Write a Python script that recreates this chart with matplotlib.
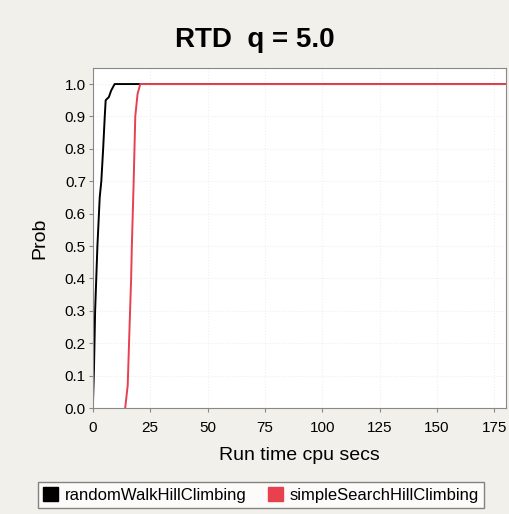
import matplotlib.pyplot as plt
from matplotlib.patches import Patch

plt.rcParams['font.family'] = ['Liberation Sans', 'DejaVu Sans']

# run time (cpu secs) vs cumulative probability of success
rw_time = [0.0, 0.5, 1.0, 2.0, 3.0, 3.7, 4.5, 5.2, 5.6, 7.0, 8.0, 9.5, 180.0]
rw_prob = [0.0, 0.12, 0.3, 0.5, 0.65, 0.7, 0.8, 0.9, 0.95, 0.96, 0.98, 1.0, 1.0]

ss_time = [14.1, 15.2, 16.0, 16.7, 17.0, 17.8, 18.5, 19.5, 20.7, 180.0]
ss_prob = [0.0, 0.07, 0.25, 0.4, 0.5, 0.7, 0.9, 0.97, 1.0, 1.0]

x_ticks = [0, 25, 50, 75, 100, 125, 150, 175]
y_ticks = [0.0, 0.1, 0.2, 0.3, 0.4, 0.5, 0.6, 0.7, 0.8, 0.9, 1.0]

bg = "#f1f0ea"
fig = plt.figure(figsize=(5.1, 5.14), dpi=100, facecolor=bg)
ax = fig.add_axes([0.182, 0.206, 0.810, 0.662])
ax.set_facecolor("white")

ax.plot(rw_time, rw_prob, color="black", lw=1.4, label="randomWalkHillClimbing")
ax.plot(ss_time, ss_prob, color="#e8404f", lw=1.4, label="simpleSearchHillClimbing")

ax.set_xlim(0, 180)
ax.set_ylim(0, 1.05)
ax.set_xticks(x_ticks)
ax.set_yticks(y_ticks)
ax.set_yticklabels([f"{v:.1f}" for v in y_ticks])
ax.grid(True, color="#efefef", ls=":", lw=0.8)
ax.tick_params(labelsize=11, length=3, color="#888888")
ax.tick_params(axis="x", pad=6)
ax.tick_params(axis="y", pad=2)
for s in ax.spines.values():
    s.set_color("#888888")

ax.set_xlabel("Run time cpu secs", fontsize=14, labelpad=9)
ax.set_ylabel("Prob", fontsize=14, labelpad=12)
fig.text(0.5, 0.922, "RTD  q = 5.0", ha="center", va="center", fontsize=20, fontweight="bold")

handles = [Patch(facecolor="black", edgecolor="black"),
           Patch(facecolor="#e8404f", edgecolor="#e8404f")]
leg = fig.legend(handles, ["randomWalkHillClimbing", "simpleSearchHillClimbing"],
                 loc="center", bbox_to_anchor=(0.512, 0.037), ncol=2, fontsize=12,
                 frameon=True, fancybox=False, handlelength=0.9, handleheight=0.9,
                 handletextpad=0.4, columnspacing=1.3, borderpad=0.3)
leg.get_frame().set_edgecolor("#666666")
leg.get_frame().set_facecolor("white")

fig.savefig("out.png", dpi=100, facecolor=bg)
